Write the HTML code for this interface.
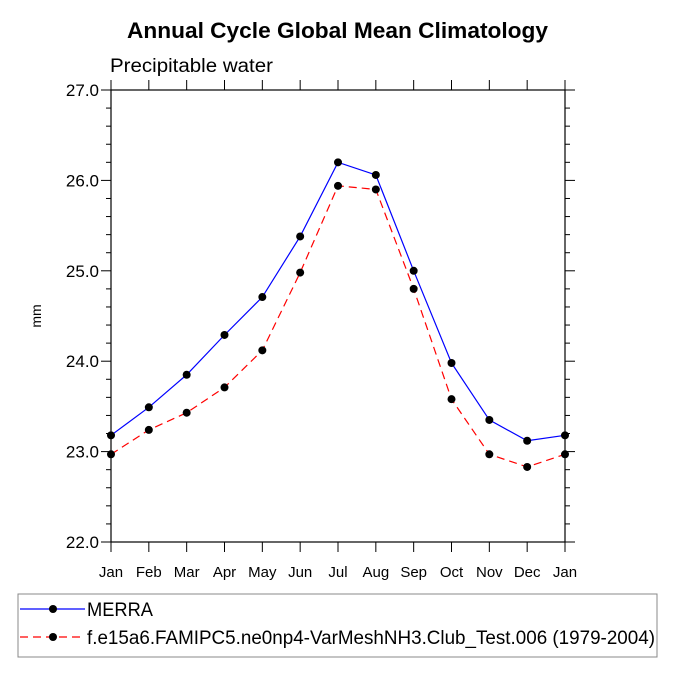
<!DOCTYPE html>
<html><head><meta charset="utf-8"><style>
body{margin:0;background:#fff;}
svg text{font-family:"Liberation Sans",Helvetica,sans-serif;}
</style></head><body>
<svg id="chart" width="675" height="675" viewBox="0 0 675 675">
<text x="127" y="38" font-size="22" font-weight="bold" textLength="421" lengthAdjust="spacingAndGlyphs">Annual Cycle Global Mean Climatology</text>
<text x="110" y="72" font-size="19" textLength="163" lengthAdjust="spacingAndGlyphs">Precipitable water</text>
<text x="0" y="0" font-size="14" text-anchor="middle" transform="translate(41,316) rotate(-90)">mm</text>
<g id="axes"></g>
<g id="series"></g>
<rect x="18" y="594" width="639" height="63" fill="none" stroke="#888" stroke-width="1"/>
<g>
<line x1="20" y1="609" x2="85" y2="609" stroke="#0000ff" stroke-width="1.2"/>
<circle cx="53" cy="609" r="4" fill="#000"/>
<text x="87" y="616" font-size="19" textLength="66" lengthAdjust="spacingAndGlyphs">MERRA</text>
</g>
<g>
<line x1="20" y1="637" x2="85" y2="637" stroke="#ff0000" stroke-width="1.2" stroke-dasharray="8,5"/>
<circle cx="53" cy="637" r="4" fill="#000"/>
<text x="87" y="644" font-size="19" textLength="568" lengthAdjust="spacingAndGlyphs">f.e15a6.FAMIPC5.ne0np4-VarMeshNH3.Club_Test.006 (1979-2004)</text>
</g>
</svg>
<script>
const months = ["Jan","Feb","Mar","Apr","May","Jun","Jul","Aug","Sep","Oct","Nov","Dec","Jan"];
const merra = [23.18,23.49,23.85,24.29,24.71,25.38,26.20,26.06,25.00,23.98,23.35,23.12,23.18];
const model = [22.97,23.24,23.43,23.71,24.12,24.98,25.94,25.90,24.80,23.58,22.97,22.83,22.97];
const yTicks = [22.0,23.0,24.0,25.0,26.0,27.0];
const NS="http://www.w3.org/2000/svg";
const X0=111,X1=565,Y0=90,Y1=542,YMIN=22,YMAX=27;
const xs=i=>X0+(X1-X0)*i/(months.length-1);
const ys=v=>Y1-(v-YMIN)/(YMAX-YMIN)*(Y1-Y0);
function mk(tag,attrs,parent){const e=document.createElementNS(NS,tag);for(const k in attrs)e.setAttribute(k,attrs[k]);parent.appendChild(e);return e;}
const ax=document.getElementById('axes');
const frame=mk('rect',{x:X0,y:Y0,width:X1-X0,height:Y1-Y0,fill:'none',stroke:'#000','stroke-width':1.2},ax);


for(let v=YMIN;v<=YMAX+1e-6;v+=0.2){
  const y=ys(v);const major=Math.abs(v-Math.round(v))<1e-6;const L=major?10:5;
  mk('line',{x1:X0-L,y1:y,x2:X0,y2:y,stroke:'#000','stroke-width':1},ax);
  mk('line',{x1:X1,y1:y,x2:X1+L,y2:y,stroke:'#000','stroke-width':1},ax);
}
yTicks.forEach(v=>{
  const t=mk('text',{x:X0-12,y:ys(v)+6,'text-anchor':'end','font-size':17},ax);
  t.textContent=v.toFixed(1);
  
  
});
months.forEach((m,i)=>{
  const x=xs(i);
  mk('line',{x1:x,y1:Y1,x2:x,y2:Y1+10,stroke:'#000','stroke-width':1},ax);
  mk('line',{x1:x,y1:Y0-10,x2:x,y2:Y0,stroke:'#000','stroke-width':1},ax);
  const t=mk('text',{x:x,y:Y1+35,'text-anchor':'middle','font-size':15},ax);
  t.textContent=m;
  
  
});
const sg=document.getElementById('series');
function draw(vals,color,dash,name){
  const pts=vals.map((v,i)=>xs(i)+','+ys(v)).join(' ');
  const pl=mk('polyline',{points:pts,fill:'none',stroke:color,'stroke-width':1.2},sg);
  if(dash)pl.setAttribute('stroke-dasharray',dash);
  
  
  vals.forEach((v,i)=>{
    const c=mk('circle',{cx:xs(i),cy:ys(v),r:4,fill:'#000'},sg);
    
    
  });
}
draw(merra,'#0000ff',null,'merra');
draw(model,'#ff0000','8,5','model');
</script>
</body></html>
